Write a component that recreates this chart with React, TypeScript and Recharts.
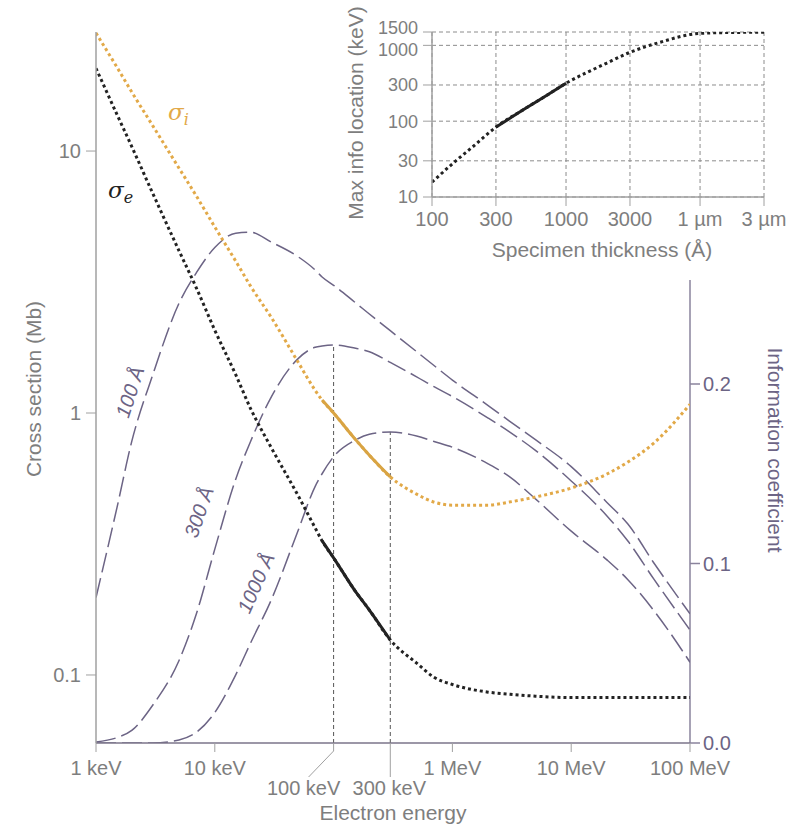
import { LineChart, Line, XAxis, YAxis, CartesianGrid, ReferenceLine } from 'recharts';

// main chart: electron energy in keV
const energyKeV = [1, 1.5, 2, 3, 5, 7, 10, 15, 20, 30, 50, 70, 80, 100, 150, 200, 300, 500, 700, 1000, 2000, 3000, 5000, 10000, 20000, 30000, 50000, 100000];

// cross sections (Mb)
const sigmaI = [28.2, 20.9, 16.8, 12.5, 8.6, 6.73, 5.13, 3.8, 3.05, 2.31, 1.57, 1.22, 1.12, 1.0, 0.8, 0.69, 0.57, 0.49, 0.457, 0.445, 0.445, 0.457, 0.478, 0.517, 0.585, 0.65, 0.77, 1.08];
const sigmaE = [20.7, 13.8, 10.4, 6.9, 4.16, 3.0, 2.07, 1.4, 1.04, 0.735, 0.486, 0.364, 0.325, 0.28, 0.211, 0.177, 0.136, 0.111, 0.098, 0.092, 0.086, 0.0845, 0.083, 0.082, 0.082, 0.082, 0.082, 0.082];

// information coefficient per specimen thickness
const ic100 = [0.081, 0.131, 0.168, 0.205, 0.245, 0.262, 0.276, 0.284, 0.2845, 0.279, 0.271, 0.2635, 0.2596, 0.255, 0.2457, 0.239, 0.2297, 0.218, 0.2103, 0.2022, 0.188, 0.1795, 0.169, 0.154, 0.134, 0.122, 0.1, 0.072];
const ic300 = [0.0006, 0.003, 0.007, 0.021, 0.046, 0.072, 0.108, 0.147, 0.168, 0.193, 0.214, 0.2205, 0.2212, 0.2217, 0.22, 0.218, 0.212, 0.204, 0.1985, 0.193, 0.181, 0.1735, 0.163, 0.146, 0.1265, 0.1125, 0.091, 0.063];
const ic1000 = [0, 0, 0, 0, 0.0017, 0.006, 0.017, 0.038, 0.0557, 0.08, 0.118, 0.143, 0.15, 0.1595, 0.1685, 0.172, 0.1733, 0.171, 0.168, 0.1648, 0.1555, 0.1485, 0.136, 0.118, 0.102, 0.091, 0.0735, 0.045];

const energyTicks = [1, 10, 100, 300, 1000, 10000, 100000];
const energyTickLabels = ['1 keV', '10 keV', '100 keV', '300 keV', '1 MeV', '10 MeV', '100 MeV'];
const crossTicks = [0.1, 1, 10];
const icTicks = [0, 0.1, 0.2];

// inset: specimen thickness in Å
const thicknessA = [100, 150, 200, 300, 500, 700, 1000, 2000, 3000, 5000, 10000, 20000, 30000];
const maxInfoKeV = [15.7, 29.8, 45.5, 83.4, 148, 213, 316, 580, 809, 1094, 1439, 1483, 1490];
const thicknessTicks = [100, 300, 1000, 3000, 10000, 30000];
const thicknessTickLabels = ['100', '300', '1000', '3000', '1 µm', '3 µm'];
const maxInfoTicks = [10, 30, 100, 300, 1000, 1500];

const SOLID_FROM = 80;
const SOLID_TO = 300;
const INSET_SOLID_FROM = 300;
const INSET_SOLID_TO = 1000;

const FONT = '"Liberation Sans", Arial, Helvetica, sans-serif';
const GREY_TEXT = '#7e7e7e';
const GREY_AXIS = '#a0a0a0';
const PURPLE = '#6c6485';
const PURPLE_AXIS = '#8a839c';
const ORANGE = '#e2a948';
const ORANGE_SOLID = '#d9a443';
const BLACK = '#222222';

const mainData = energyKeV.map((e, i) => ({
    e,
    si: sigmaI[i],
    se: sigmaE[i],
    siSolid: e >= SOLID_FROM && e <= SOLID_TO ? sigmaI[i] : null,
    seSolid: e >= SOLID_FROM && e <= SOLID_TO ? sigmaE[i] : null,
    ic100: ic100[i],
    ic300: ic300[i],
    ic1000: ic1000[i],
}));

const insetData = thicknessA.map((t, i) => ({
    t,
    v: maxInfoKeV[i],
    vSolid: t >= INSET_SOLID_FROM && t <= INSET_SOLID_TO ? maxInfoKeV[i] : null,
}));

const peak300 = ic300[energyKeV.indexOf(100)];
const peak1000 = ic1000[energyKeV.indexOf(300)];

const EnergyTick = (props: any) => {
    const { x, y, payload } = props;
    const v = payload.value;
    const label = energyTickLabels[energyTicks.indexOf(v)];
    const textStyle = { fontFamily: FONT, fontSize: 20, fill: GREY_TEXT };
    if (v === 100) {
        return (
            <g>
                <line x1={x} y1={y} x2={x} y2={y + 8} stroke={GREY_AXIS} />
                <line x1={x} y1={y + 8} x2={x - 25} y2={y + 34} stroke={GREY_AXIS} />
                <text x={x - 30} y={y + 52} textAnchor='middle' style={textStyle}>
                    {label}
                </text>
            </g>
        );
    }
    if (v === 300) {
        return (
            <g>
                <line x1={x} y1={y} x2={x} y2={y + 34} stroke={GREY_AXIS} />
                <text x={x - 1} y={y + 52} textAnchor='middle' style={textStyle}>
                    {label}
                </text>
            </g>
        );
    }
    return (
        <g>
            <line x1={x} y1={y} x2={x} y2={y + 9} stroke={GREY_AXIS} />
            <text x={x} y={y + 32} textAnchor='middle' style={textStyle}>
                {label}
            </text>
        </g>
    );
};

// inset y ticks: 1500 and 1000 sit very close, nudge them apart a little
const InfoTick = (props: any) => {
    const { x, y, payload } = props;
    const v = payload.value;
    const shift = v === 1500 ? -4 : v === 1000 ? 4 : 0;
    return (
        <text x={x} y={y + shift} dy='0.36em' textAnchor='end' style={{ fontFamily: FONT, fontSize: 18, fill: GREY_TEXT }}>
            {String(v)}
        </text>
    );
};

const dotted = { strokeWidth: 3, strokeDasharray: '3 3' };
const dashed = { stroke: PURPLE, strokeWidth: 1.5, strokeDasharray: '20 6' };

export default function App() {
    return (
        <div style={{ position: 'absolute', left: 0, top: 0, width: 798, height: 824, background: '#fff' }}>
            <LineChart width={798} height={824} data={mainData} margin={{ top: 32, right: 0, bottom: 0, left: 0 }}>
                <XAxis
                    dataKey='e'
                    type='number'
                    scale='log'
                    domain={[1, 100000]}
                    allowDataOverflow
                    ticks={energyTicks}
                    interval={0}
                    height={81}
                    tickSize={0}
                    tickMargin={0}
                    tickLine={false}
                    axisLine={{ stroke: '#7b748a', strokeWidth: 1.5 }}
                    tick={<EnergyTick />}
                />
                <YAxis
                    yAxisId='left'
                    scale='log'
                    domain={[0.055, 28.47]}
                    allowDataOverflow
                    ticks={crossTicks}
                    interval={0}
                    width={96}
                    tickSize={10}
                    tickMargin={5}
                    axisLine={{ stroke: GREY_AXIS, strokeWidth: 1.5 }}
                    tickLine={{ stroke: GREY_AXIS }}
                    tick={{ fontFamily: FONT, fontSize: 20, fill: GREY_TEXT }}
                    tickFormatter={(v: number) => String(v)}
                />
                <YAxis
                    yAxisId='right'
                    orientation='right'
                    type='number'
                    domain={[0, 0.3961]}
                    allowDataOverflow
                    ticks={icTicks}
                    interval={0}
                    width={108}
                    tickSize={10}
                    tickMargin={3}
                    axisLine={false}
                    tickLine={{ stroke: PURPLE_AXIS, strokeWidth: 1.5 }}
                    tick={{ fontFamily: FONT, fontSize: 20, fill: PURPLE }}
                    tickFormatter={(v: number) => v.toFixed(1)}
                />
                <ReferenceLine
                    yAxisId='right'
                    segment={[
                        { x: 100000, y: 0 },
                        { x: 100000, y: 0.258 },
                    ]}
                    stroke={PURPLE_AXIS}
                    strokeWidth={1.5}
                />
                <ReferenceLine
                    yAxisId='right'
                    segment={[
                        { x: 100, y: 0 },
                        { x: 100, y: peak300 },
                    ]}
                    stroke='#555'
                    strokeDasharray='4 3'
                />
                <ReferenceLine
                    yAxisId='right'
                    segment={[
                        { x: 300, y: 0 },
                        { x: 300, y: peak1000 },
                    ]}
                    stroke='#555'
                    strokeDasharray='4 3'
                />
                <Line yAxisId='right' dataKey='ic100' type='monotone' dot={false} isAnimationActive={false} {...dashed} />
                <Line yAxisId='right' dataKey='ic300' type='monotone' dot={false} isAnimationActive={false} {...dashed} />
                <Line yAxisId='right' dataKey='ic1000' type='monotone' dot={false} isAnimationActive={false} {...dashed} />
                <Line yAxisId='left' dataKey='se' type='monotone' stroke={BLACK} dot={false} isAnimationActive={false} {...dotted} />
                <Line yAxisId='left' dataKey='si' type='monotone' stroke={ORANGE} dot={false} isAnimationActive={false} {...dotted} />
                <Line yAxisId='left' dataKey='seSolid' type='monotone' stroke={BLACK} strokeWidth={3} dot={false} isAnimationActive={false} />
                <Line yAxisId='left' dataKey='siSolid' type='monotone' stroke={ORANGE_SOLID} strokeWidth={3} dot={false} isAnimationActive={false} />
            </LineChart>

            <div style={{ position: 'absolute', left: 340, top: 0 }}>
                <LineChart width={458} height={270} data={insetData} margin={{ top: 32, right: 34, bottom: 43, left: 0 }}>
                    <CartesianGrid stroke='#8c8c8c' strokeDasharray='4 3' />
                    <XAxis
                        dataKey='t'
                        type='number'
                        scale='log'
                        domain={[100, 30000]}
                        allowDataOverflow
                        ticks={thicknessTicks}
                        interval={0}
                        height={30}
                        tickSize={9}
                        tickMargin={6}
                        axisLine={{ stroke: GREY_AXIS, strokeWidth: 1.5 }}
                        tickLine={{ stroke: GREY_AXIS }}
                        tick={{ fontFamily: FONT, fontSize: 20, fill: GREY_TEXT }}
                        tickFormatter={(v: number) => thicknessTickLabels[thicknessTicks.indexOf(v)]}
                    />
                    <YAxis
                        scale='log'
                        domain={[10, 1500]}
                        allowDataOverflow
                        ticks={maxInfoTicks}
                        interval={0}
                        width={92}
                        tickSize={9}
                        tickMargin={5}
                        axisLine={{ stroke: GREY_AXIS, strokeWidth: 1.5 }}
                        tickLine={{ stroke: GREY_AXIS }}
                        tick={<InfoTick />}
                    />
                    <Line dataKey='v' type='monotone' stroke={BLACK} dot={false} isAnimationActive={false} {...dotted} />
                    <Line dataKey='vSolid' type='monotone' stroke={BLACK} strokeWidth={3} dot={false} isAnimationActive={false} />
                </LineChart>
            </div>

            <svg width={798} height={824} style={{ position: 'absolute', left: 0, top: 0, pointerEvents: 'none' }}>
                <g style={{ fontFamily: FONT, fontSize: 21 }}>
                    <text x={33} y={389} transform='rotate(-90 33 389)' textAnchor='middle' dominantBaseline='central' fill={GREY_TEXT}>
                        Cross section (Mb)
                    </text>
                    <text x={775} y={450} transform='rotate(90 775 450)' textAnchor='middle' dominantBaseline='central' fill={PURPLE}>
                        Information coefficient
                    </text>
                    <text x={393} y={820} textAnchor='middle' fill={GREY_TEXT}>
                        Electron energy
                    </text>
                    <text x={355} y={113} transform='rotate(-90 355 113)' textAnchor='middle' dominantBaseline='central' fill={GREY_TEXT}>
                        Max info location (keV)
                    </text>
                    <text x={602} y={257} textAnchor='middle' fill={GREY_TEXT}>
                        Specimen thickness (Å)
                    </text>
                </g>
                <g style={{ fontFamily: '"DejaVu Serif", serif', fontStyle: 'italic' }}>
                    <text x={168} y={120} fontSize={23} fill={ORANGE}>
                        σ<tspan fontSize={16} dy={5}>i</tspan>
                    </text>
                    <text x={108} y={198} fontSize={23} fill={BLACK}>
                        σ<tspan fontSize={16} dy={5}>e</tspan>
                    </text>
                </g>
                <g style={{ fontFamily: FONT, fontSize: 20, fontStyle: 'italic' }} fill={PURPLE}>
                    <text x={130} y={392} transform='rotate(-72 130 392)' textAnchor='middle' dominantBaseline='central'>
                        100 Å
                    </text>
                    <text x={199} y={512} transform='rotate(-71 199 512)' textAnchor='middle' dominantBaseline='central'>
                        300 Å
                    </text>
                    <text x={256} y={583} transform='rotate(-66 256 583)' textAnchor='middle' dominantBaseline='central'>
                        1000 Å
                    </text>
                </g>
            </svg>
        </div>
    );
}
